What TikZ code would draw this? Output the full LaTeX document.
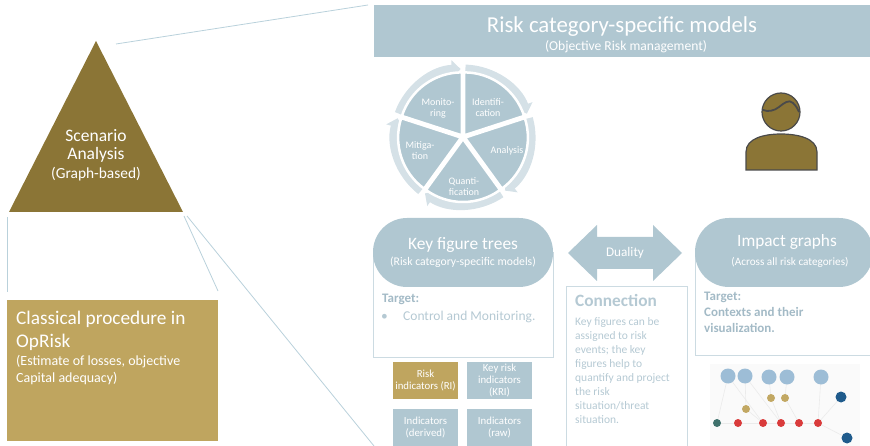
\documentclass[tikz,border=0pt]{standalone}
\usepackage{fontspec}
\setmainfont{Carlito}
\usetikzlibrary{arrows.meta}

\definecolor{scenbrown}{HTML}{8B7536}
\definecolor{opgold}{HTML}{BFA55F}
\definecolor{riskblue}{HTML}{B0C7D1}
\definecolor{ringblue}{HTML}{D5E1E7}
\definecolor{linkblue}{HTML}{B9D1DB}
\definecolor{frameblue}{HTML}{CCDBE2}
\definecolor{targetblue}{HTML}{A3BAC6}
\definecolor{softblue}{HTML}{B5C9D3}
\definecolor{hairgray}{HTML}{4A4A4A}
\definecolor{gnodeblue}{HTML}{9DBDD6}
\definecolor{gnodegold}{HTML}{C2A863}
\definecolor{gnodered}{HTML}{D93B3B}
\definecolor{gnodenavy}{HTML}{1F5B8C}
\definecolor{gnodeteal}{HTML}{3F716C}

\newcommand{\fsz}[2]{\fontsize{#1}{#2}\selectfont}

\tikzset{
  wtext/.style={text=white, inner sep=0pt},
  link/.style={draw=linkblue, line width=0.8pt},
  boxline/.style={draw=frameblue, line width=0.9pt},
  pill/.style={fill=riskblue, rounded corners=34pt, minimum height=69pt, inner sep=0pt},
  ringarrow/.style={draw=ringblue, line width=9pt, -{Triangle[width=18pt,length=9pt]}},
  wedge/.style={fill=riskblue, draw=white, line width=2.5pt},
  indbox/.style={minimum width=65pt, minimum height=37pt, inner sep=0pt, text=white, align=center, font=\fsz{10.8}{12}},
  gnode/.style={circle, inner sep=0pt, minimum size=#1},
  gedge/.style={draw=black!8, line width=0.6pt},
}

\begin{document}
\begin{tikzpicture}[x=1pt,y=-1pt]
\useasboundingbox (0,0) rectangle (870,446);

% scenario pyramid
\coordinate (apex) at (96,41);
\coordinate (baseL) at (9,212);
\coordinate (baseR) at (183,212);
\fill[scenbrown] (apex) -- (baseR) -- (baseL) -- cycle;
\node[wtext, anchor=base, font=\fsz{17.5}{21}] (scen1) at (96,142) {Scenario};
\node[wtext, anchor=base, font=\fsz{17.5}{21}] (scen2) at (96,160) {Analysis};
\node[wtext, anchor=base, font=\fsz{15.4}{18}] (scen3) at (96,179) {(Graph-based)};

% zoom lines out of the pyramid
\coordinate (pyrTop) at (116,44);
\coordinate (headEnd) at (368,5);
\coordinate (pyrLeft) at (7,217);
\coordinate (classLeft) at (7,292);
\coordinate (pyrRight) at (184,216);
\coordinate (classRight) at (218,291);
\coordinate (pyrRight2) at (187,216);
\coordinate (keyEnd) at (374,446);
\draw[link] (pyrTop) -- (headEnd);
\draw[link] (pyrLeft) -- (classLeft);
\draw[link] (pyrRight) -- (classRight);
\draw[link] (pyrRight2) -- (keyEnd);

% classical procedure
\node[fill=opgold, minimum width=211pt, minimum height=141pt, inner sep=0pt, anchor=north west] (classic) at (7,300) {};
\node[wtext, anchor=base west, font=\fsz{19.3}{23}] (cl1) at (16,324) {Classical procedure in};
\node[wtext, anchor=base west, font=\fsz{19.3}{23}] (cl2) at (16,347) {OpRisk};
\node[wtext, anchor=base west, font=\fsz{14}{17}] (cl3) at (16,365) {(Estimate of losses, objective};
\node[wtext, anchor=base west, font=\fsz{14}{17}] (cl4) at (16,382) {Capital adequacy)};

% header
\node[fill=riskblue, minimum width=500pt, minimum height=52pt, inner sep=0pt, anchor=north west] (header) at (374,5) {};
\node[wtext, anchor=base, font=\fsz{22.8}{26}] (htitle) at (622,33) {Risk category-specific models};
\node[wtext, anchor=base, font=\fsz{13.6}{16}] (hsub) at (626,51) {(Objective Risk management)};

% risk management cycle
\begin{scope}[shift={(463,137)}, y=1pt]
  \foreach \a in {90,18,-54,-126,-198}
    \draw[ringarrow] (\a-2:68) arc (\a-2:\a-70:68);
  \foreach \a in {90,18,-54,-126,-198}
    \filldraw[wedge, shift={(\a-36:2)}] (0,0) -- (\a:63) arc (\a:\a-72:63) -- cycle;
  \node[wtext, align=center, font=\fsz{10}{11}] (mon) at (-25,29) {Monito-\\ring};
  \node[wtext, align=center, font=\fsz{10}{11}] (ident) at (25,29) {Identifi-\\cation};
  \node[wtext, align=center, font=\fsz{10}{11}] (anal) at (44,-14) {Analysis};
  \node[wtext, align=center, font=\fsz{10}{11}] (quant) at (1,-50) {Quanti-\\fication};
  \node[wtext, align=center, font=\fsz{10}{11}] (mitig) at (-43,-14) {Mitiga-\\tion};
\end{scope}

% person
\filldraw[fill=scenbrown, draw=hairgray, line width=1.2pt] (746,170) -- (746,152) .. controls (746,138) and (765,134) .. (781,134) .. controls (797,134) and (817,138) .. (817,152) -- (817,170) -- cycle;
\filldraw[fill=scenbrown, draw=hairgray, line width=1.2pt] (781,112) circle (19pt);
\draw[hairgray, line width=1.8pt] (763,110) .. controls (768,112) and (774,111) .. (779,107) .. controls (784,103) and (789,99) .. (793,103) .. controls (796,106) and (798,109) .. (799,112);

% key figure trees
\draw[boxline] (373,252) rectangle (553,357);
\node[pill, minimum width=180pt] (keytrees) at (463,252.5) {};
\node[wtext, anchor=base, font=\fsz{17.4}{20}] (keyt) at (463,250) {Key figure trees};
\node[wtext, anchor=base, font=\fsz{11.7}{14}] (keys) at (463,266) {(Risk category-specific models)};
\node[anchor=base west, text=targetblue, font=\bfseries\fsz{13}{15}, inner sep=0pt] (keytarget) at (382,303) {Target:};
\node[anchor=base west, text=softblue, font=\fsz{13.5}{16}, inner sep=0pt] (keybullet) at (381,320) {•};
\node[anchor=base west, text=softblue, font=\fsz{13.5}{16}, inner sep=0pt] (keygoal) at (403,320) {Control and Monitoring.};

% duality
\fill[riskblue] (568,253) -- (597,225) -- (597,237) -- (653,237) -- (653,225) -- (682,253)
  -- (653,281) -- (653,269) -- (597,269) -- (597,281) -- cycle;
\node[wtext, font=\fsz{13.2}{15}] (duality) at (625,253) {Duality};

% connection (base of a multi-line node is its last line)
\draw[boxline] (566,286) rectangle (687,460);
\node[anchor=base west, text=softblue, font=\bfseries\fsz{17.3}{20}, inner sep=0pt] (conntitle) at (575,306) {Connection};
\node[anchor=base west, text=softblue, font=\fsz{11.5}{14.1}, align=left, inner sep=0pt] (conntext) at (575,423.7)
  {Key figures can be\\assigned to risk\\events; the key\\figures help to\\quantify and project\\the risk\\situation/threat\\situation.};

% impact graphs
\draw[boxline] (695,252) rectangle (880,355);
\node[pill, minimum width=178pt] (impact) at (784,252.5) {};
\node[wtext, anchor=base, font=\fsz{17.3}{20}] (impt) at (787,247) {Impact graphs};
\node[wtext, anchor=base, font=\fsz{11.2}{13}] (imps) at (790,266) {(Across all risk categories)};
\node[anchor=base west, text=targetblue, font=\bfseries\fsz{13}{15}, inner sep=0pt] (imptarget) at (704,301) {Target:};
\node[anchor=base west, text=targetblue, font=\bfseries\fsz{13}{15.5}, align=left, inner sep=0pt] (impgoal) at (704,332) {Contexts and their\\visualization.};

% indicator boxes
\node[indbox, fill=opgold] (ri) at (425.5,380.5) {Risk\\indicators (RI)};
\node[indbox, fill=riskblue] (kri) at (499.5,380.5) {Key risk\\indicators\\(KRI)};
\node[indbox, fill=riskblue] (derived) at (425.5,427.5) {Indicators\\(derived)};
\node[indbox, fill=riskblue] (raw) at (499.5,427.5) {Indicators\\(raw)};

% small impact graph
\fill[black!2] (710,364) rectangle (860,446);
\foreach \u/\x/\y/\v/\p/\q in {b1/728/376/t1/717/423, b1/728/376/r2/763/423, b2/745/376/g3/746/409,
    b2/745/376/r3/781/423, b3/769/377/g1/771/398, b4/787/377/g2/785/398, g1/771/398/r3/781/423,
    g2/785/398/r4/799/423, g3/746/409/r2/763/423, b5/821/377/r5/818/423, d1/841/397/r5/818/423,
    r5/818/423/d2/847/438, t1/717/423/r1/738/423, r1/738/423/r2/763/423, r2/763/423/r3/781/423,
    r3/781/423/r4/799/423, r4/799/423/r5/818/423}
  \draw[gedge] (\x,\y) -- (\p,\q);
\foreach \n/\x/\y in {b1/728/376, b2/745/376, b3/769/377, b4/787/377, b5/821/377}
  \node[gnode=15pt, fill=gnodeblue] (\n) at (\x,\y) {};
\foreach \n/\x/\y in {g1/771/398, g2/785/398, g3/746/409}
  \node[gnode=8pt, fill=gnodegold] (\n) at (\x,\y) {};
\foreach \n/\x/\y in {r1/738/423, r2/763/423, r3/781/423, r4/799/423, r5/818/423}
  \node[gnode=8pt, fill=gnodered] (\n) at (\x,\y) {};
\node[gnode=11pt, fill=gnodenavy] (d1) at (841,397) {};
\node[gnode=11pt, fill=gnodenavy] (d2) at (847,438) {};
\node[gnode=8pt, fill=gnodeteal] (t1) at (717,423) {};

\end{tikzpicture}
\end{document}
